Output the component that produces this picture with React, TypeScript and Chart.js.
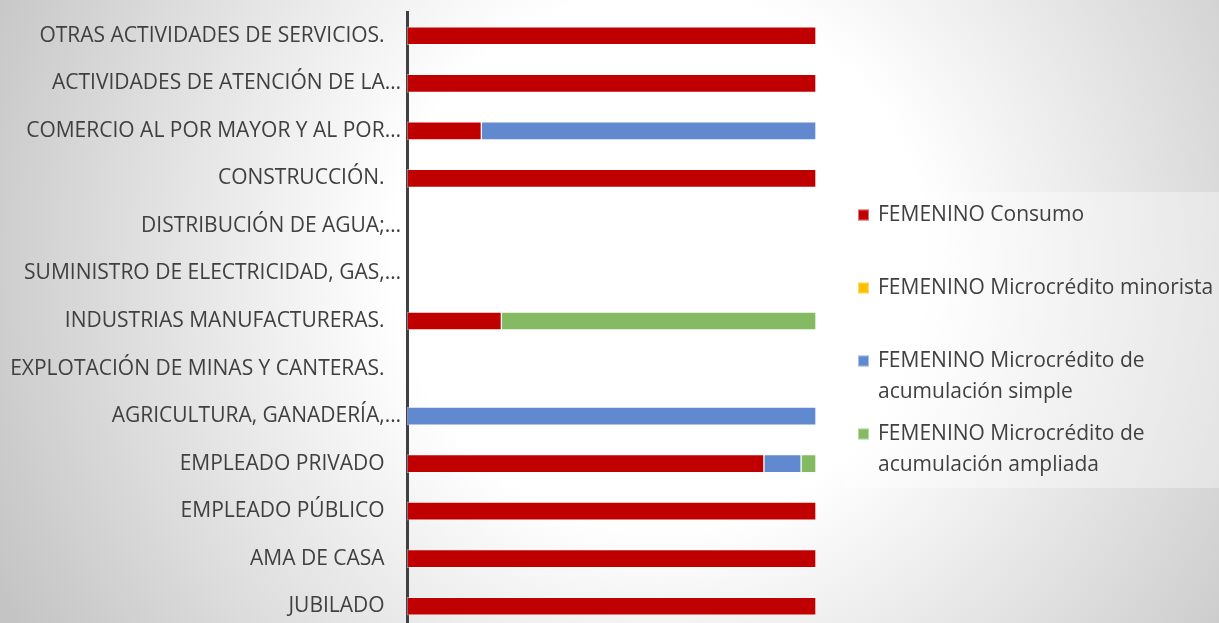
import { useEffect, useRef } from 'react';
import { Chart, registerables } from 'chart.js';

Chart.register(...registerables);

const CATEGORIES = [
  'OTRAS ACTIVIDADES DE SERVICIOS.   ',
  'ACTIVIDADES DE ATENCIÓN DE LA…',
  'COMERCIO AL POR MAYOR Y AL POR…',
  'CONSTRUCCIÓN.   ',
  'DISTRIBUCIÓN DE AGUA;…',
  'SUMINISTRO DE ELECTRICIDAD, GAS,…',
  'INDUSTRIAS MANUFACTURERAS.   ',
  'EXPLOTACIÓN DE MINAS Y CANTERAS.   ',
  'AGRICULTURA, GANADERÍA,…',
  'EMPLEADO PRIVADO   ',
  'EMPLEADO PÚBLICO   ',
  'AMA DE CASA   ',
  'JUBILADO   ',
];

const SERIES_LABELS = [
  'FEMENINO Consumo',
  'FEMENINO Microcrédito minorista',
  'FEMENINO Microcrédito de acumulación simple',
  'FEMENINO Microcrédito de acumulación ampliada',
];

const SERIES_COLORS = ['#C00000', '#FFC000', '#6189D0', '#84BB62'];

const CONSUMO = [1, 1, 2, 1, 0, 0, 3, 0, 0, 48, 1, 1, 1];
const MINORISTA = [0, 0, 0, 0, 0, 0, 0, 0, 0, 0, 0, 0, 0];
const ACUM_SIMPLE = [0, 0, 9, 0, 0, 0, 0, 0, 1, 5, 0, 0, 0];
const ACUM_AMPLIADA = [0, 0, 0, 0, 0, 0, 10, 0, 0, 2, 0, 0, 0];

const SERIES = [CONSUMO, MINORISTA, ACUM_SIMPLE, ACUM_AMPLIADA];

const FONT_FAMILY = '"Open Sans", sans-serif';
const FONT_SIZE = 21;
const TEXT_COLOR = '#404040';

const totals = CATEGORIES.map((_, i) => SERIES.reduce((s, arr) => s + arr[i], 0));
const toPct = (arr: number[]) => arr.map((v, i) => (totals[i] ? (v / totals[i]) * 100 : 0));

const backgroundPlugin = {
  id: 'bgGradient',
  beforeDraw(chart: any) {
    const { ctx, width, height } = chart;
    const g = ctx.createRadialGradient(660, 260, 0, 660, 260, 740);
    g.addColorStop(0, '#ffffff');
    g.addColorStop(0.36, '#ffffff');
    g.addColorStop(1, '#c4c4c4');
    ctx.save();
    ctx.fillStyle = g;
    ctx.fillRect(0, 0, width, height);
    ctx.restore();
  },
};

const wrapText = (ctx: CanvasRenderingContext2D, text: string, maxWidth: number) => {
  const words = text.split(' ');
  const lines: string[] = [];
  let cur = '';
  for (const w of words) {
    const test = cur ? cur + ' ' + w : w;
    if (ctx.measureText(test).width > maxWidth && cur) {
      lines.push(cur);
      cur = w;
    } else {
      cur = test;
    }
  }
  if (cur) lines.push(cur);
  return lines;
};

const customLegend = {
  id: 'customLegend',
  afterDraw(chart: any) {
    const { ctx } = chart;
    const boxX = 845;
    const boxY = 192;
    const boxW = 374;
    const boxH = 296;
    ctx.save();
    ctx.fillStyle = 'rgba(255,255,255,0.35)';
    ctx.fillRect(boxX, boxY, boxW, boxH);
    ctx.font = `${FONT_SIZE}px ${FONT_FAMILY}`;
    ctx.textBaseline = 'middle';
    ctx.textAlign = 'left';
    chart.data.datasets.forEach((ds: any, i: number) => {
      const y0 = 215 + i * 73;
      ctx.fillStyle = ds.backgroundColor;
      ctx.fillRect(858, y0 - 5.5, 11, 11);
      ctx.strokeStyle = 'rgba(255,255,255,0.45)';
      ctx.lineWidth = 1;
      ctx.strokeRect(858.5, y0 - 5, 10, 10);
      ctx.fillStyle = TEXT_COLOR;
      const lines = wrapText(ctx, ds.label, 345);
      lines.forEach((line, j) => {
        ctx.fillText(line, 878, y0 + j * 31);
      });
    });
    ctx.restore();
  },
};

export default function App() {
  const canvasRef = useRef<HTMLCanvasElement | null>(null);

  useEffect(() => {
    if (!canvasRef.current) return;
    const chart = new Chart(canvasRef.current, {
      type: 'bar',
      data: {
        labels: CATEGORIES,
        datasets: SERIES.map((arr, k) => ({
          label: SERIES_LABELS[k],
          data: toPct(arr),
          backgroundColor: SERIES_COLORS[k],
          borderColor: 'rgba(255,255,255,0.45)',
          borderWidth: 1,
          borderSkipped: false,
          barThickness: 18,
        })),
      },
      options: {
        indexAxis: 'y',
        responsive: false,
        animation: false,
        layout: { padding: { top: 12, bottom: 10, left: 0, right: 403 } },
        plugins: {
          legend: { display: false },
          tooltip: { enabled: false },
        },
        scales: {
          x: { display: false, stacked: true, min: 0, max: 100 },
          y: {
            stacked: true,
            grid: { display: false, drawTicks: false },
            border: { display: true, color: '#404040', width: 3 },
            ticks: {
              color: TEXT_COLOR,
              font: { family: FONT_FAMILY, size: FONT_SIZE },
              padding: 6,
              autoSkip: false,
            },
            afterFit(scale: any) {
              scale.width = 407;
              scale.paddingTop = 0;
              scale.paddingBottom = 0;
            },
          },
        },
      },
      plugins: [backgroundPlugin, customLegend],
    } as any);
    return () => chart.destroy();
  }, []);

  return (
    <div style={{ position: 'fixed', left: 0, top: 0, width: 1219, height: 623, overflow: 'hidden' }}>
      <canvas ref={canvasRef} width={1219} height={640} style={{ display: 'block' }} />
    </div>
  );
}
